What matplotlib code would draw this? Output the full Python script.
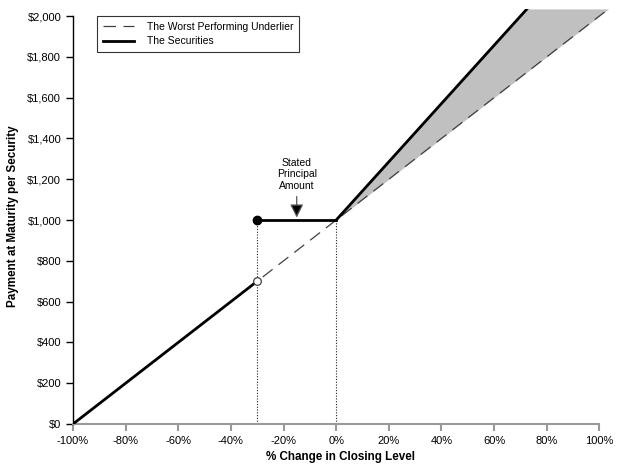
import matplotlib
matplotlib.use("Agg")
import matplotlib.pyplot as plt
import numpy as np

plt.rcParams["font.family"] = ["Liberation Sans", "DejaVu Sans"]

# underlier (dashed) and securities payoff
underlierX = [-100, 103.5]
underlierY = [0, 2035]
lowerX = [-100, -30]
lowerY = [0, 700]
flatX = [-30, 0]
flatY = [1000, 1000]
upsideX = [0, 72.5]
upsideY = [1000, 2035]
shadeX = [0, 72.5, 103.5]
shadeTop = [1000, 2035, 2035]
shadeBottom = [1000, 1725, 2035]
barrierX = [-30, 0]
barrierY = [1000, 1000]

xTicks = [-100, -80, -60, -40, -20, 0, 20, 40, 60, 80, 100]
xTickLabels = [f"{t}%" for t in xTicks]
yTicks = [0, 200, 400, 600, 800, 1000, 1200, 1400, 1600, 1800, 2000]
yTickLabels = [f"${t:,}" for t in yTicks]

fig = plt.figure(figsize=(6.25, 4.68), dpi=100)
ax = fig.add_axes([0.1168, 0.094, 0.857, 0.887])

ax.fill_between(shadeX, shadeBottom, shadeTop, color="#c0c0c0", lw=0, zorder=1)
for bx, by in zip(barrierX, barrierY):
    ax.plot([bx, bx], [0, by], color="#222222", ls=(0, (1, 1.5)), lw=0.8, zorder=2)

ax.plot(underlierX, underlierY, color="#404040", lw=0.9, ls=(0, (10, 6)), zorder=3,
        label="The Worst Performing Underlier")
ax.plot(lowerX, lowerY, color="black", lw=2, zorder=4, label="The Securities")
ax.plot(flatX, flatY, color="black", lw=2, zorder=4)
ax.plot(upsideX, upsideY, color="black", lw=2, zorder=4)
ax.plot(flatX[0], flatY[0], "o", color="black", ms=6, zorder=5)
ax.plot(lowerX[-1], lowerY[-1], "o", mfc="white", mec="#404040", mew=0.9, ms=5.5, zorder=5)

ax.text(-15, 1225, "Stated\nPrincipal\nAmount", ha="center", va="center", fontsize=7.5)
ax.annotate("", xy=(-15, 1012), xytext=(-15, 1115),
            arrowprops=dict(arrowstyle="-|>,head_length=0.8,head_width=0.4",
                            fc="black", ec="#555555", lw=0.9, shrinkA=0, shrinkB=0))

ax.set_xlim(-100, 103.5)
ax.set_ylim(0, 2035)
ax.set_xticks(xTicks)
ax.set_xticklabels(xTickLabels, fontsize=8)
ax.set_yticks(yTicks)
ax.set_yticklabels(yTickLabels, fontsize=8)

for s in ["top", "right"]:
    ax.spines[s].set_visible(False)
ax.spines["left"].set_bounds(0, 2000)
ax.spines["bottom"].set_bounds(-100, 100)
ax.spines["bottom"].set_color("#999999")
ax.spines["bottom"].set_linewidth(1.5)
ax.spines["left"].set_linewidth(1.0)
ax.tick_params(axis="x", colors="#999999", length=5, width=1.5, labelcolor="black")
ax.tick_params(axis="y", length=5, width=1.0)

ax.set_xlabel("% Change in Closing Level", fontsize=8.4, fontweight="bold", labelpad=4)
ax.set_ylabel("Payment at Maturity per Security", fontsize=8.4, fontweight="bold", labelpad=6)

leg = ax.legend(loc="upper left", bbox_to_anchor=(0.045, 0.983), borderaxespad=0,
                fontsize=7.5, frameon=True, fancybox=False, edgecolor="black",
                handlelength=3.0, handletextpad=1.2, borderpad=0.55,
                labelspacing=0.45)
leg.get_frame().set_linewidth(0.8)

fig.savefig("out.png", dpi=100)
